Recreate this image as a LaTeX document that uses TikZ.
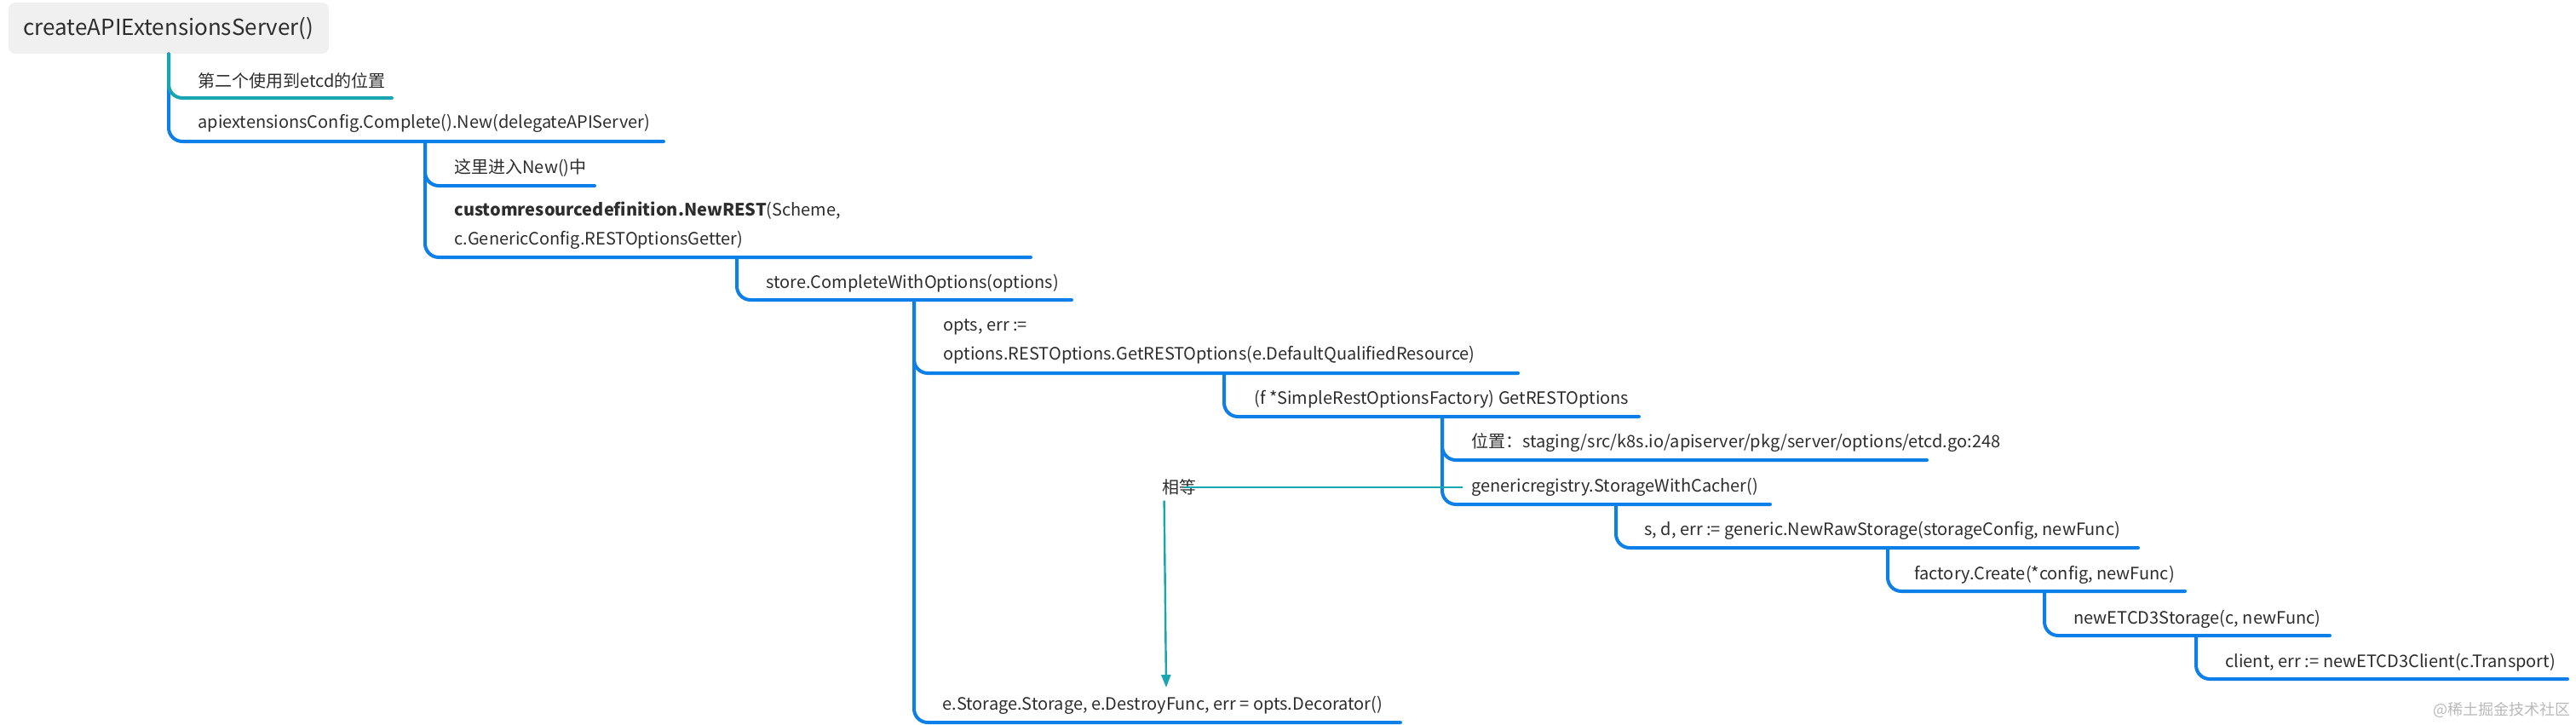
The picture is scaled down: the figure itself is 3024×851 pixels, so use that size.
\documentclass[tikz,border=0pt]{standalone}
\usepackage{fontspec}
\setmainfont{Noto Sans CJK SC}
\usetikzlibrary{arrows.meta}
\definecolor{branchblue}{RGB}{12,127,232}
\definecolor{branchteal}{RGB}{26,166,176}
\definecolor{rootgray}{RGB}{240,240,240}
\definecolor{textgray}{RGB}{45,45,45}
\definecolor{markgray}{RGB}{185,185,185}

\tikzset{
  topic/.style={anchor=west, inner sep=0pt, text=textgray, align=left,
    font=\fontsize{10}{17}\selectfont},
  branch/.style={draw=branchblue, line width=2pt, rounded corners=8pt, line cap=round},
  relation/.style={draw=branchteal, line width=1.2pt},
}

\begin{document}
\begin{tikzpicture}[x=0.5pt,y=-0.5pt]
            \useasboundingbox (0,0) rectangle (3024,851);

            % Root
            \node[fill=rootgray, rounded corners=4pt, minimum width=188pt, minimum height=30pt,
              text=textgray, font=\fontsize{13}{15}\selectfont] (root) at (198,33) {createAPIExtensionsServer()};

            % Topics
            \node[topic] (t1) at (232,95) {第二个使用到etcd的位置};
            \node[topic] (t2) at (232,145) {apiextensionsConfig.Complete().New(delegateAPIServer)};
            \node[topic] (t3) at (533,197) {这里进入New()中};
            \node[topic] (t4) at (533,265) {\textbf{customresourcedefinition.NewREST}(Scheme,\\c.GenericConfig.RESTOptionsGetter)};
            \node[topic] (t5) at (899,333) {store.CompleteWithOptions(options)};
            \node[topic] (t6) at (1107,401) {opts, err :=\\options.RESTOptions.GetRESTOptions(e.DefaultQualifiedResource)};
            \node[topic] (t7) at (1472,469) {(f *SimpleRestOptionsFactory) GetRESTOptions};
            \node[topic] (t8) at (1727,520) {位置：staging/src/k8s.io/apiserver/pkg/server/options/etcd.go:248};
            \node[topic] (t9) at (1727,572) {genericregistry.StorageWithCacher()};
            \node[topic] (t10) at (1930,623) {s, d, err := generic.NewRawStorage(storageConfig, newFunc)};
            \node[topic] (t11) at (2247,675) {factory.Create(*config, newFunc)};
            \node[topic] (t12) at (2434,727) {newETCD3Storage(c, newFunc)};
            \node[topic] (t13) at (2612,778) {client, err := newETCD3Client(c.Transport)};
            \node[topic] (t14) at (1106,828) {e.Storage.Storage, e.DestroyFunc, err = opts.Decorator()};

            % Underline ends
            \coordinate (e1) at (460,115);
            \coordinate (e2) at (779,166);
            \coordinate (e3) at (698,218);
            \coordinate (e4) at (1210,302);
            \coordinate (e5) at (1258,352);
            \coordinate (e6) at (1782,438);
            \coordinate (e7) at (1924,489);
            \coordinate (e8) at (2262,540);
            \coordinate (e9) at (2078,592);
            \coordinate (e10) at (2510,643);
            \coordinate (e11) at (2565,694);
            \coordinate (e12) at (2735,746);
            \coordinate (e13) at (3014,797);
            \coordinate (e14) at (1644,848);

            % Forks
            \coordinate (f2) at (499,166);
            \coordinate (f4) at (865,302);
            \coordinate (f5) at (1073,352);
            \coordinate (f6) at (1437,438);
            \coordinate (f7) at (1693,489);
            \coordinate (f9) at (1897,592);
            \coordinate (f10) at (2216,643);
            \coordinate (f11) at (2400,694);
            \coordinate (f12) at (2578,746);

            % Branches
            \draw[branch] (root.south) |- (e2);
            \draw[branch, draw=branchteal] (root.south) |- (e1);
            \draw[branch] (f2) |- (e3);
            \draw[branch] (f2) |- (e4);
            \draw[branch] (f4) |- (e5);
            \draw[branch] (f5) |- (e6);
            \draw[branch] (f5) |- (e14);
            \draw[branch] (f6) |- (e7);
            \draw[branch] (f7) |- (e8);
            \draw[branch] (f7) |- (e9);
            \draw[branch] (f9) |- (e10);
            \draw[branch] (f10) |- (e11);
            \draw[branch] (f11) |- (e12);
            \draw[branch] (f12) |- (e13);

            % Relation
            \node[topic, anchor=center] (eq) at (1384,572) {相等};
            \coordinate (eqend) at (1369,807);
            \draw[relation] ([xshift=-5pt]t9.west) -- ([xshift=-7pt]eq.east);
            \draw[relation, -{Triangle[length=7.5pt,width=5.5pt]}] ([xshift=1.5pt,yshift=-3pt]eq.south west) -- (eqend);

            % Watermark
            \node[anchor=east, inner sep=0pt, text=markgray, font=\fontsize{9}{9}\selectfont] (mark) at (3018,833) {@稀土掘金技术社区};

        \end{tikzpicture}
\end{document}
